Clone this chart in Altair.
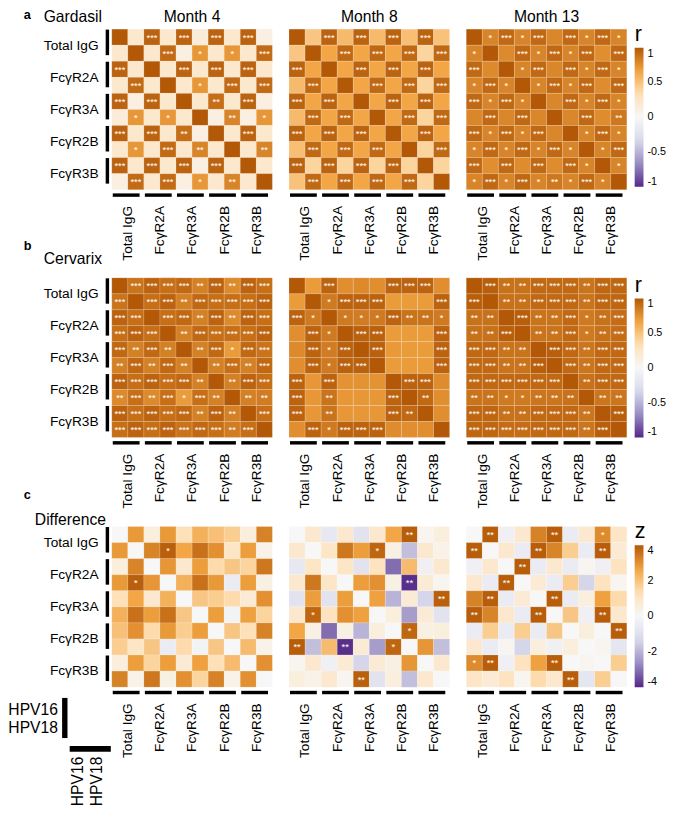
import json
import altair as alt
import pandas as pd

FONT = "Liberation Sans"

FEATURES = ["Total IgG", "FcγR2A", "FcγR3A", "FcγR2B", "FcγR3B"]
MONTHS = ["Month 4", "Month 8", "Month 13"]
ROW_TITLES = ["Gardasil", "Cervarix", "Difference"]
LETTERS = ["a", "b", "c"]
HPV = ["HPV16", "HPV18"]
R_TICKS = [-1, -0.5, 0, 0.5, 1]
Z_TICKS = [-4, -2, 0, 2, 4]

# ---------------- Gardasil (r) ----------------
G4_R = [
    [1, .22, .95, .22, .95, .16, .95, .22, .95, .12],
    [.22, 1, .22, .92, .12, .72, .22, .72, .22, .92],
    [.95, .22, 1, .22, .95, .22, .95, .22, .95, .22],
    [.22, .92, .22, 1, .22, .72, .22, .92, .22, .92],
    [.95, .12, .95, .22, 1, .22, .9, .22, .95, .12],
    [.16, .72, .22, .72, .22, 1, .12, .8, .12, .72],
    [.95, .22, .95, .22, .9, .12, 1, .22, .95, .22],
    [.22, .72, .22, .92, .22, .8, .22, 1, .22, .8],
    [.95, .22, .95, .22, .95, .12, .95, .22, 1, .22],
    [.12, .92, .22, .92, .12, .72, .22, .8, .22, 1],
]
G4_SIG = [
    [0, 0, 3, 0, 3, 0, 3, 0, 3, 0],
    [0, 0, 0, 3, 0, 1, 0, 1, 0, 3],
    [3, 0, 0, 0, 3, 0, 3, 0, 3, 0],
    [0, 3, 0, 0, 0, 1, 0, 3, 0, 3],
    [3, 0, 3, 0, 0, 0, 2, 0, 3, 0],
    [0, 1, 0, 1, 0, 0, 0, 2, 0, 1],
    [3, 0, 3, 0, 2, 0, 0, 0, 3, 0],
    [0, 1, 0, 3, 0, 2, 0, 0, 0, 2],
    [3, 0, 3, 0, 3, 0, 3, 0, 0, 0],
    [0, 3, 0, 3, 0, 1, 0, 2, 0, 0],
]
G8_R = [
    [1, .48, .95, .54, .95, .54, .95, .52, .95, .5],
    [.48, 1, .65, .93, .65, .93, .65, .93, .4, .93],
    [.95, .65, 1, .65, .95, .65, .95, .65, .95, .65],
    [.54, .93, .65, 1, .65, .93, .65, .93, .4, .93],
    [.95, .65, .95, .65, 1, .65, .95, .65, .95, .65],
    [.54, .93, .65, .93, .65, 1, .65, .93, .4, .93],
    [.95, .65, .95, .65, .95, .65, 1, .65, .95, .65],
    [.52, .93, .65, .93, .65, .93, .65, 1, .4, .93],
    [.95, .4, .95, .4, .95, .4, .95, .4, 1, .4],
    [.5, .93, .65, .93, .65, .93, .65, .93, .4, 1],
]
G8_SIG = [
    [0, 0, 3, 0, 3, 0, 3, 0, 3, 0],
    [0, 0, 0, 3, 0, 3, 0, 3, 0, 3],
    [3, 0, 0, 0, 3, 0, 3, 0, 3, 0],
    [0, 3, 0, 0, 0, 3, 0, 3, 0, 3],
    [3, 0, 3, 0, 0, 0, 3, 0, 3, 0],
    [0, 3, 0, 3, 0, 0, 0, 3, 0, 3],
    [3, 0, 3, 0, 3, 0, 0, 0, 3, 0],
    [0, 3, 0, 3, 0, 3, 0, 0, 0, 3],
    [3, 0, 3, 0, 3, 0, 3, 0, 0, 0],
    [0, 3, 0, 3, 0, 3, 0, 3, 0, 0],
]
G13_R = [
    [1, .8, .93, .8, .93, .79, .93, .8, .93, .8],
    [.8, 1, .78, .93, .8, .93, .8, .93, .76, .93],
    [.93, .78, 1, .8, .93, .79, .93, .8, .93, .8],
    [.8, .93, .8, 1, .8, .93, .8, .93, .77, .93],
    [.93, .8, .93, .8, 1, .79, .93, .8, .93, .8],
    [.79, .93, .79, .93, .79, 1, .79, .93, .77, .86],
    [.93, .8, .93, .8, .93, .79, 1, .8, .93, .8],
    [.8, .93, .8, .93, .8, .93, .8, 1, .8, .93],
    [.93, .76, .93, .77, .93, .77, .93, .8, 1, .8],
    [.8, .93, .8, .93, .8, .86, .8, .93, .8, 1],
]
G13_SIG = [
    [0, 1, 3, 1, 3, 0, 3, 1, 3, 1],
    [1, 0, 0, 3, 1, 3, 1, 3, 0, 3],
    [3, 0, 0, 1, 3, 0, 3, 1, 3, 1],
    [1, 3, 1, 0, 1, 3, 1, 3, 0, 3],
    [3, 1, 3, 1, 0, 0, 3, 1, 3, 1],
    [0, 3, 0, 3, 0, 0, 0, 3, 0, 2],
    [3, 1, 3, 1, 3, 0, 0, 1, 3, 1],
    [1, 3, 1, 3, 1, 3, 1, 0, 1, 3],
    [3, 0, 3, 0, 3, 0, 3, 1, 0, 1],
    [1, 3, 1, 3, 1, 2, 1, 3, 1, 0],
]

# ---------------- Cervarix (r) ----------------
C4_R = [
    [1, .88, .95, .9, .93, .82, .95, .78, .95, .9],
    [.88, 1, .9, .95, .82, .93, .9, .9, .9, .95],
    [.95, .9, 1, .9, .93, .82, .95, .78, .95, .9],
    [.9, .95, .9, 1, .82, .93, .9, .9, .9, .95],
    [.93, .82, .93, .82, 1, .82, .93, .7, .93, .88],
    [.82, .93, .82, .93, .82, 1, .82, .9, .82, .93],
    [.95, .9, .95, .9, .93, .82, 1, .82, .95, .9],
    [.78, .9, .78, .9, .7, .9, .82, 1, .82, .84],
    [.95, .9, .95, .9, .93, .82, .95, .82, 1, .9],
    [.9, .95, .9, .95, .88, .93, .9, .84, .9, 1],
]
C4_SIG = [
    [0, 3, 3, 3, 3, 2, 3, 2, 3, 3],
    [3, 0, 3, 3, 2, 3, 3, 3, 3, 3],
    [3, 3, 0, 3, 3, 2, 3, 2, 3, 3],
    [3, 3, 3, 0, 2, 3, 3, 3, 3, 3],
    [3, 2, 3, 2, 0, 2, 3, 1, 3, 3],
    [2, 3, 2, 3, 2, 0, 2, 3, 2, 3],
    [3, 3, 3, 3, 3, 2, 0, 2, 3, 3],
    [2, 3, 2, 3, 1, 3, 2, 0, 2, 2],
    [3, 3, 3, 3, 3, 2, 3, 2, 0, 3],
    [3, 3, 3, 3, 3, 3, 3, 2, 3, 0],
]
C8_R = [
    [1, .7, .95, .76, .78, .76, .95, .95, .95, .76],
    [.7, 1, .85, .95, .95, .95, .7, .7, .7, .95],
    [.95, .85, 1, .85, .84, .85, .95, .88, .88, .85],
    [.76, .95, .85, 1, .96, .96, .7, .7, .7, .95],
    [.78, .95, .84, .96, 1, .96, .71, .7, .7, .95],
    [.76, .95, .85, .96, .96, 1, .7, .7, .7, .95],
    [.95, .72, .95, .74, .74, .74, 1, .95, .95, .77],
    [.95, .72, .88, .72, .72, .72, .95, 1, .93, .76],
    [.95, .72, .88, .72, .72, .72, .95, .93, 1, .76],
    [.76, .95, .85, .95, .95, .95, .77, .76, .76, 1],
]
C8_SIG = [
    [0, 0, 3, 0, 0, 0, 3, 3, 3, 0],
    [0, 0, 1, 3, 3, 3, 0, 0, 0, 3],
    [3, 1, 0, 1, 1, 1, 3, 2, 2, 1],
    [0, 3, 1, 0, 3, 3, 0, 0, 0, 3],
    [0, 3, 1, 3, 0, 3, 0, 0, 0, 3],
    [0, 3, 1, 3, 3, 0, 0, 0, 0, 3],
    [3, 0, 3, 0, 0, 0, 0, 3, 3, 0],
    [3, 0, 2, 0, 0, 0, 3, 0, 2, 0],
    [3, 0, 2, 0, 0, 0, 3, 2, 0, 0],
    [0, 3, 1, 3, 3, 3, 0, 0, 0, 0],
]
C13_R = [
    [1, .97, .89, .89, .93, .93, .93, .88, .94, .94],
    [.97, 1, .89, .89, .93, .93, .93, .88, .94, .94],
    [.89, .89, 1, .97, .88, .88, .93, .85, .89, .91],
    [.89, .89, .97, 1, .88, .88, .93, .85, .89, .91],
    [.93, .93, .88, .88, 1, .97, .93, .87, .93, .93],
    [.93, .93, .88, .88, .97, 1, .93, .87, .93, .93],
    [.93, .93, .93, .93, .93, .93, 1, .89, .93, .93],
    [.88, .88, .85, .85, .87, .87, .89, 1, .87, .87],
    [.94, .94, .89, .89, .93, .93, .93, .87, 1, .97],
    [.94, .94, .91, .91, .93, .93, .93, .87, .97, 1],
]
C13_SIG = [
    [0, 3, 2, 2, 3, 3, 3, 2, 3, 3],
    [3, 0, 2, 2, 3, 3, 3, 2, 3, 3],
    [2, 2, 0, 3, 2, 2, 3, 1, 2, 3],
    [2, 2, 3, 0, 2, 2, 3, 1, 2, 3],
    [3, 3, 2, 2, 0, 3, 3, 2, 3, 3],
    [3, 3, 2, 2, 3, 0, 3, 2, 3, 3],
    [3, 3, 3, 3, 3, 3, 0, 2, 3, 3],
    [2, 2, 1, 1, 2, 2, 2, 0, 2, 2],
    [3, 3, 2, 2, 3, 3, 3, 2, 0, 3],
    [3, 3, 3, 3, 3, 3, 3, 2, 3, 0],
]

# ---------------- Difference (z) ----------------
D4_Z = [
    [0, 2.85, 0.55, 2.85, 1.3, 2.35, 2.05, 1.75, 0.55, 3.25],
    [2.85, 0, 3.2, 3.85, 2.6, 3.55, 3.0, 1.0, 2.75, 0.3],
    [0.55, 3.2, 0, 2.9, 0.85, 2.75, 1.45, 1.9, 1.6, 3.45],
    [2.85, 3.85, 2.9, 0, 2.35, 3.55, 2.85, -0.5, 2.75, 0.4],
    [1.3, 2.6, 0.85, 2.35, 0, 1.9, 1.75, 1.45, 0.7, 3.0],
    [2.35, 3.55, 2.75, 3.55, 1.9, 0, 2.75, -0.2, 2.7, 1.6],
    [2.05, 3.0, 1.45, 2.85, 1.75, 2.75, 0, 1.9, 1.3, 3.25],
    [1.75, 1.0, 1.9, -0.5, 1.45, -0.2, 1.9, 0, 2.15, 0.3],
    [0.55, 2.75, 1.6, 2.75, 0.7, 2.7, 1.3, 2.15, 0, 3.0],
    [3.25, 0.3, 3.45, 0.4, 3.0, 1.6, 3.25, 0.3, 3.0, 0],
]
D4_SIG = [
    [0, 0, 0, 0, 0, 0, 0, 0, 0, 0],
    [0, 0, 0, 1, 0, 0, 0, 0, 0, 0],
    [0, 0, 0, 0, 0, 0, 0, 0, 0, 0],
    [0, 1, 0, 0, 0, 0, 0, 0, 0, 0],
    [0, 0, 0, 0, 0, 0, 0, 0, 0, 0],
    [0, 0, 0, 0, 0, 0, 0, 0, 0, 0],
    [0, 0, 0, 0, 0, 0, 0, 0, 0, 0],
    [0, 0, 0, 0, 0, 0, 0, 0, 0, 0],
    [0, 0, 0, 0, 0, 0, 0, 0, 0, 0],
    [0, 0, 0, 0, 0, 0, 0, 0, 0, 0],
]
D8_Z = [
    [0, 0.85, -0.7, 0.85, -0.9, 0.85, 2.6, 3.9, 0.15, 0.55],
    [0.85, 0, 1.0, 3.45, 2.75, 3.75, 0.4, -1.8, 0.85, 0.3],
    [-0.7, 1.0, 0, 1.0, -0.9, 1.15, -3.1, 2.15, -0.35, 0.85],
    [0.85, 3.45, 1.0, 0, 2.75, 3.0, 0.4, -3.9, 0.7, 0.15],
    [-0.9, 2.75, -0.9, 2.75, 0, 2.7, -2.0, 0.7, -1.4, 3.85],
    [0.85, 3.75, 1.15, 3.0, 2.7, 0, 0.55, -2.4, 0.7, -0.9],
    [2.6, 0.4, -3.1, 0.4, -2.0, 0.55, 0, 3.75, 0.4, 0.55],
    [3.9, -1.8, 2.15, -3.9, 0.7, -2.4, 3.75, 0, 2.9, -1.8],
    [0.15, 0.85, -0.35, 0.7, -1.4, 0.7, 0.4, 2.9, 0, 0.85],
    [0.55, 0.3, 0.85, 0.15, 3.85, -0.9, 0.55, -1.8, 0.85, 0],
]
D8_SIG = [
    [0, 0, 0, 0, 0, 0, 0, 2, 0, 0],
    [0, 0, 0, 0, 0, 1, 0, 0, 0, 0],
    [0, 0, 0, 0, 0, 0, 0, 0, 0, 0],
    [0, 0, 0, 0, 0, 0, 0, 2, 0, 0],
    [0, 0, 0, 0, 0, 0, 0, 0, 0, 2],
    [0, 1, 0, 0, 0, 0, 0, 0, 0, 0],
    [0, 0, 0, 0, 0, 0, 0, 1, 0, 0],
    [2, 0, 0, 2, 0, 0, 1, 0, 0, 0],
    [0, 0, 0, 0, 0, 0, 0, 0, 0, 0],
    [0, 0, 0, 0, 2, 0, 0, 0, 0, 0],
]
D13_Z = [
    [0, 3.9, -0.35, 0.85, 3.25, 3.9, -0.5, 0.85, 3.1, 1.0],
    [3.9, 0, 0.85, -0.5, 3.9, 3.2, 1.75, -0.5, 3.9, 0.7],
    [-0.35, 0.85, 0, 3.9, -0.5, 0.85, -0.5, 0.15, -0.35, 1.15],
    [0.85, -0.5, 3.9, 0, 0.7, -0.5, 1.75, -1.4, 1.15, 0.15],
    [3.25, 3.9, -0.5, 0.7, 0, 3.9, -0.5, 0.55, 2.7, 1.45],
    [3.9, 3.2, 0.85, -0.5, 3.9, 0, 1.9, -0.35, 3.9, 0.85],
    [-0.5, 1.75, -0.5, 1.75, -0.5, 1.9, 0, 0.55, 0, 3.9],
    [0.85, -0.5, 0.15, -1.4, 0.55, -0.35, 0.55, 0, 0.15, -0.8],
    [3.1, 3.9, -0.35, 1.15, 2.7, 3.9, 0, 0.15, 0, 1.75],
    [1.0, 0.7, 1.15, 0.15, 1.45, 0.85, 3.9, -0.8, 1.75, 0],
]
D13_SIG = [
    [0, 2, 0, 0, 0, 2, 0, 0, 1, 0],
    [2, 0, 0, 0, 2, 0, 0, 0, 2, 0],
    [0, 0, 0, 2, 0, 0, 0, 0, 0, 0],
    [0, 0, 2, 0, 0, 0, 0, 0, 0, 0],
    [0, 2, 0, 0, 0, 2, 0, 0, 0, 0],
    [2, 0, 0, 0, 2, 0, 0, 0, 2, 0],
    [0, 0, 0, 0, 0, 0, 0, 0, 0, 2],
    [0, 0, 0, 0, 0, 0, 0, 0, 0, 0],
    [1, 2, 0, 0, 0, 2, 0, 0, 0, 0],
    [0, 0, 0, 0, 0, 0, 2, 0, 0, 0],
]

PANELS = [
    [(G4_R, G4_SIG), (G8_R, G8_SIG), (G13_R, G13_SIG)],
    [(C4_R, C4_SIG), (C8_R, C8_SIG), (C13_R, C13_SIG)],
    [(D4_Z, D4_SIG), (D8_Z, D8_SIG), (D13_Z, D13_SIG)],
]

PUOR = ["#542788", "#998ec3", "#d8daeb", "#f7f7f7", "#fee0b6", "#f1a340", "#b35806"]
R_STOPS = [-1, -2 / 3, -1 / 3, 0, 1 / 3, 2 / 3, 1]
Z_STOPS = [4 * s for s in R_STOPS]

W = 164
HS = [164, 163, 164]

n = len(FEATURES)
COL_BARS = pd.DataFrame({"bs": [2 * k + 0.06 for k in range(n)],
                         "be": [2 * k + 2 - 0.27 for k in range(n)]})
ROW_BARS = pd.DataFrame({"bs": [2 * k + 0.03 for k in range(n)],
                         "be": [2 * k + 2 - 0.38 for k in range(n)]})

feat_js = json.dumps(FEATURES, ensure_ascii=False)
LABEL_EXPR = f"{feat_js}[floor(datum.value / 2)]"

xs = alt.Scale(domain=[0, 2 * n], nice=False, zero=False)
ys = alt.Scale(domain=[0, 2 * n], nice=False, zero=False, reverse=True)

XAXIS = alt.Axis(values=[1, 3, 5, 7, 9], labelExpr=LABEL_EXPR, labelAngle=-90,
                 labelPadding=16, ticks=False, tickSize=0, domain=False, grid=False,
                 title=None, labelFontSize=14, labelFont=FONT, labelColor="black",
                 labelOverlap=False, labelFlush=False, labelBound=False)
YAXIS = alt.Axis(values=[1, 3, 5, 7, 9], labelExpr=LABEL_EXPR, labelPadding=14,
                 ticks=False, tickSize=0, domain=False, grid=False, title=None,
                 labelFontSize=14, labelFont=FONT, labelColor="black",
                 labelOverlap=False, labelFlush=False, labelBound=False)


def cell_frame(vals, sig):
    recs = []
    for i, row in enumerate(vals):
        for j, v in enumerate(row):
            recs.append({"r": i, "r2": i + 1, "c": j, "c2": j + 1,
                         "rm": i + 0.5, "cm": j + 0.5, "v": v,
                         "s": "*" * sig[i][j]})
    return pd.DataFrame(recs)


def note(text, x, y, size=16, weight="normal", align="left", angle=0,
         baseline="alphabetic"):
    return alt.Chart(pd.DataFrame({"t": [text]})).mark_text(
        font=FONT, fontSize=size, fontWeight=weight, align=align,
        baseline=baseline, angle=angle, color="black"
    ).encode(text="t:N", x=alt.value(x), y=alt.value(y))


def bar(x, y, x2=None, y2=None, width=3.5, opacity=1, color="black"):
    enc = {"x": alt.value(x), "y": alt.value(y)}
    if x2 is not None:
        enc["x2"] = alt.value(x2)
    if y2 is not None:
        enc["y2"] = alt.value(y2)
    return alt.Chart(pd.DataFrame({"t": [0]})).mark_rule(
        color=color, strokeWidth=width, opacity=opacity).encode(**enc)


LEG_COMMON = dict(titleFontSize=22, titleFontWeight="normal", titleFont=FONT,
                  titleColor="black", titlePadding=2, gradientThickness=9,
                  gradientStrokeWidth=0, labelExpr="'' + datum.value",
                  labelFontSize=11, labelFont=FONT, labelColor="black",
                  labelOffset=4, labelBaseline="middle", direction="vertical",
                  padding=0, labelOverlap=False)


def legend_for(ri):
    if ri < 2:
        return alt.Legend(orient="none", legendX=W + 8, legendY=[-5, -3][ri],
                          title="r", values=R_TICKS, gradientLength=142,
                          **LEG_COMMON)
    return alt.Legend(orient="none", legendX=W + 8, legendY=-5, title="z",
                      values=Z_TICKS, gradientLength=145, **LEG_COMMON)


def panel(ri, ci):
    vals, sig = PANELS[ri][ci]
    H = HS[ri]
    df = cell_frame(vals, sig)
    first = ci == 0
    yaxis = YAXIS if first else None
    cscale = alt.Scale(domain=R_STOPS if ri < 2 else Z_STOPS, range=PUOR,
                       interpolate="rgb")
    legend = legend_for(ri) if ci == 2 else None

    rect = alt.Chart(df).mark_rect(stroke="white", strokeWidth=0.4,
                                   strokeOpacity=0.4).encode(
        x=alt.X("c:Q", scale=xs, axis=XAXIS), x2="c2:Q",
        y=alt.Y("r:Q", scale=ys, axis=yaxis), y2="r2:Q",
        color=alt.Color("v:Q", scale=cscale, legend=legend))
    stars = alt.Chart(df[df.s != ""]).mark_text(
        color="white", fontSize=9.5, font=FONT, dy=3.5, baseline="alphabetic"
    ).encode(x=alt.X("cm:Q", scale=xs, axis=XAXIS),
             y=alt.Y("rm:Q", scale=ys, axis=yaxis), text="s:N")
    cbars = alt.Chart(COL_BARS).mark_rule(color="black", strokeWidth=3.5).encode(
        x=alt.X("bs:Q", scale=xs, axis=XAXIS), x2="be:Q", y=alt.value(H + 5.5))
    layers = [rect, stars, cbars]

    if first:
        rbars = alt.Chart(ROW_BARS).mark_rule(color="black", strokeWidth=3.5).encode(
            y=alt.Y("bs:Q", scale=ys, axis=yaxis), y2="be:Q", x=alt.value(-4.5))
        layers.append(rbars)
        if ri == 0:
            layers += [note(LETTERS[0], -90, -10, size=13, weight="bold"),
                       note(ROW_TITLES[0], -10, -7, align="right"),
                       note(LETTERS[1], -90, 226, size=13, weight="bold"),
                       note(ROW_TITLES[1], -10, 240, align="right"),
                       bar(-105, 100, x2=-104, width=0.1, opacity=0)]
        elif ri == 1:
            layers += [note(LETTERS[2], -90, 226, size=13, weight="bold"),
                       bar(-105, -4, x2=-104, width=0.1, opacity=0)]
        else:
            layers += [note(ROW_TITLES[2], -6, -2, align="right"),
                       bar(-105, 100, x2=-104, width=0.1, opacity=0),
                       bar(-48, 175, y2=216, width=5.5),
                       note(HPV[0], -55, 192, align="right"),
                       note(HPV[1], -55, 211, align="right"),
                       bar(-43, 227, x2=-1, width=6),
                       note(HPV[0], -34, 235, align="right", angle=270,
                            baseline="middle"),
                       note(HPV[1], -15, 235, align="right", angle=270,
                            baseline="middle")]
    if ri == 0:
        layers.append(note(MONTHS[ci], W / 2, -7, align="center"))
    return alt.layer(*layers).properties(width=W, height=H)


rows = []
for ri in range(3):
    rows.append(alt.hconcat(*[panel(ri, ci) for ci in range(3)], spacing=15)
                .resolve_scale(color="independent"))

top = alt.vconcat(rows[0], rows[1], spacing=7).resolve_scale(color="independent")
chart = alt.vconcat(top, rows[2], spacing=3).resolve_scale(
    color="independent").properties(
    padding={"top": -7, "left": 0, "right": 0, "bottom": 0}
).configure_view(stroke=None)

chart.save("out.html", embed_options={"renderer": "svg", "actions": False})
